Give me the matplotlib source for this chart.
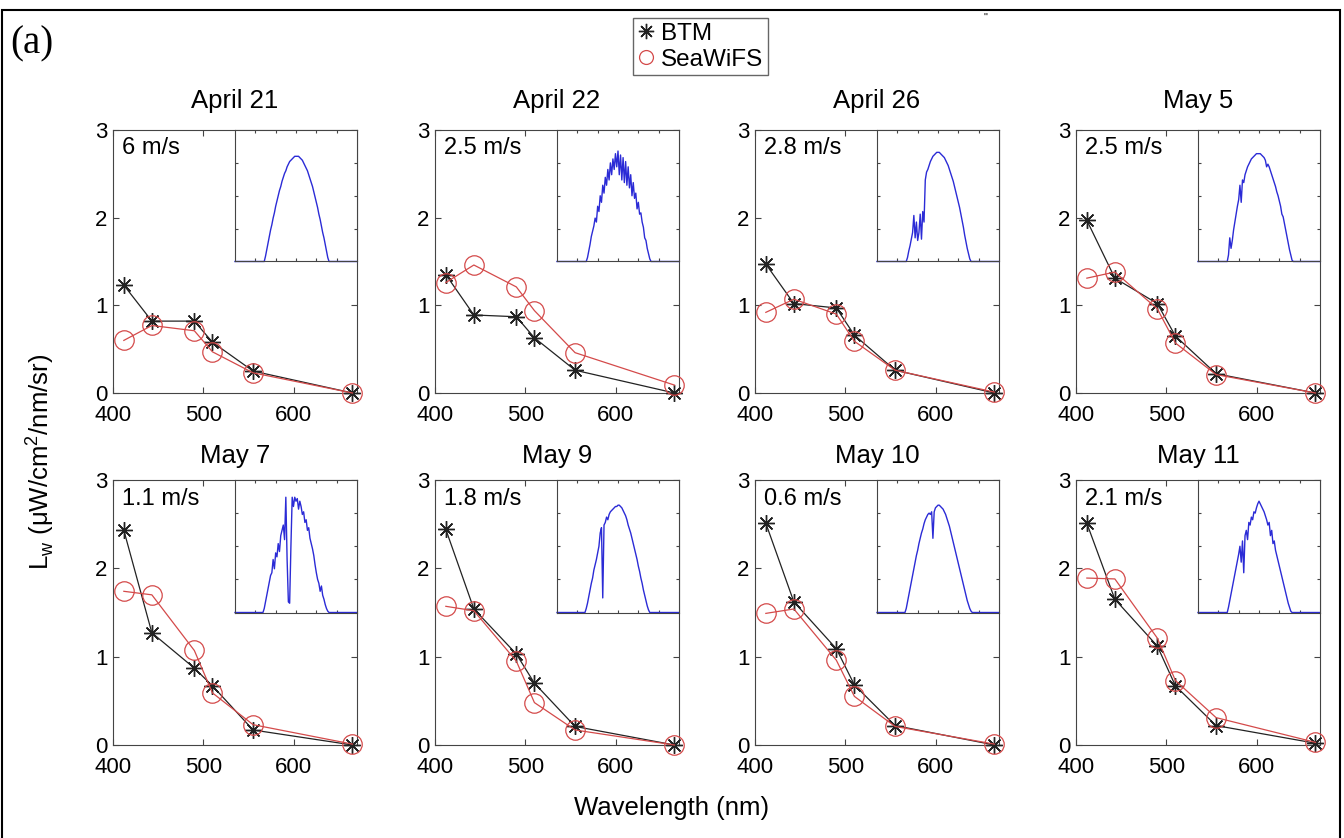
import matplotlib
matplotlib.use("Agg")
import matplotlib.pyplot as plt
from matplotlib.lines import Line2D
from matplotlib.patches import Rectangle

plt.rcParams["font.family"] = ["Liberation Sans", "DejaVu Sans"]

dates = ["April 21", "April 22", "April 26", "May 5", "May 7", "May 9", "May 10", "May 11"]
winds = ["6 m/s", "2.5 m/s", "2.8 m/s", "2.5 m/s", "1.1 m/s", "1.8 m/s", "0.6 m/s", "2.1 m/s"]

# SeaWiFS band centres (nm)
bands = [412, 443, 490, 510, 555, 665]

btm = [
    [1.23, 0.82, 0.82, 0.58, 0.25, 0.00],
    [1.35, 0.89, 0.87, 0.63, 0.26, 0.00],
    [1.47, 1.02, 0.97, 0.66, 0.26, 0.00],
    [1.97, 1.31, 1.02, 0.65, 0.22, 0.00],
    [2.43, 1.27, 0.87, 0.67, 0.17, 0.00],
    [2.44, 1.54, 1.03, 0.70, 0.21, 0.00],
    [2.51, 1.62, 1.09, 0.68, 0.22, 0.00],
    [2.51, 1.65, 1.12, 0.67, 0.22, 0.02],
]

seawifs = [
    [0.60, 0.77, 0.71, 0.47, 0.23, 0.00],
    [1.26, 1.46, 1.21, 0.94, 0.46, 0.09],
    [0.92, 1.07, 0.90, 0.59, 0.26, 0.01],
    [1.31, 1.38, 0.96, 0.57, 0.21, 0.00],
    [1.74, 1.70, 1.07, 0.59, 0.23, 0.01],
    [1.57, 1.52, 0.95, 0.48, 0.17, 0.00],
    [1.49, 1.54, 0.96, 0.55, 0.21, 0.01],
    [1.89, 1.88, 1.21, 0.73, 0.31, 0.03],
]

# inset: daily irradiance record (hour of day, relative units)
hours = [0, 5.5, 5.75, 6.0, 6.25, 6.5, 6.75, 7.0, 7.25, 7.5, 7.75,
         8.0, 8.25, 8.5, 8.75, 9.0, 9.25, 9.5, 9.75, 10.0, 10.25, 10.5, 10.75,
         11.0, 11.25, 11.5, 11.75, 12.0, 12.25, 12.5, 12.75, 13.0, 13.25, 13.5, 13.75,
         14.0, 14.25, 14.5, 14.75, 15.0, 15.25, 15.5, 15.75, 16.0, 16.25, 16.5, 16.75,
         17.0, 17.25, 17.5, 17.75, 18.0, 18.25, 18.5, 18.75, 19.0, 24]

sun = [
    [0, 0, 0, 0.04, 0.09, 0.14, 0.19, 0.24, 0.28, 0.33, 0.37,
     0.42, 0.46, 0.50, 0.54, 0.57, 0.61, 0.64, 0.67, 0.69, 0.72, 0.74, 0.76,
     0.77, 0.78, 0.79, 0.80, 0.80, 0.80, 0.80, 0.79, 0.78, 0.77, 0.75, 0.73,
     0.71, 0.69, 0.66, 0.63, 0.60, 0.57, 0.53, 0.49, 0.45, 0.41, 0.36, 0.32,
     0.27, 0.22, 0.18, 0.13, 0.08, 0.03, 0, 0, 0, 0],
    [0, 0, 0, 0.03, 0.08, 0.13, 0.19, 0.23, 0.27, 0.33, 0.30,
     0.42, 0.38, 0.50, 0.45, 0.58, 0.52, 0.64, 0.58, 0.70, 0.62, 0.75, 0.66,
     0.78, 0.70, 0.82, 0.72, 0.84, 0.66, 0.81, 0.62, 0.79, 0.60, 0.76, 0.58,
     0.72, 0.56, 0.66, 0.50, 0.60, 0.48, 0.52, 0.40, 0.45, 0.36, 0.37, 0.30,
     0.26, 0.18, 0.16, 0.10, 0.06, 0.02, 0, 0, 0, 0],
    [0, 0, 0, 0.03, 0.08, 0.12, 0.17, 0.22, 0.35, 0.18, 0.30,
     0.16, 0.22, 0.36, 0.17, 0.38, 0.30, 0.62, 0.68, 0.70, 0.73, 0.76, 0.78,
     0.80, 0.81, 0.82, 0.83, 0.83, 0.83, 0.82, 0.81, 0.80, 0.79, 0.77, 0.75,
     0.73, 0.70, 0.67, 0.64, 0.61, 0.57, 0.53, 0.49, 0.45, 0.41, 0.36, 0.31,
     0.26, 0.20, 0.15, 0.10, 0.06, 0.02, 0, 0, 0, 0],
    [0, 0, 0, 0.05, 0.18, 0.10, 0.16, 0.24, 0.30, 0.36, 0.42,
     0.47, 0.58, 0.45, 0.62, 0.60, 0.66, 0.69, 0.72, 0.74, 0.76, 0.78, 0.79,
     0.80, 0.81, 0.82, 0.82, 0.82, 0.82, 0.81, 0.80, 0.79, 0.77, 0.72, 0.74,
     0.72, 0.69, 0.66, 0.63, 0.60, 0.57, 0.53, 0.50, 0.46, 0.42, 0.36, 0.34,
     0.29, 0.24, 0.19, 0.14, 0.09, 0.05, 0.01, 0, 0, 0],
    [0, 0, 0.03, 0.08, 0.13, 0.18, 0.23, 0.28, 0.30, 0.40, 0.33,
     0.45, 0.42, 0.52, 0.46, 0.58, 0.62, 0.66, 0.55, 0.87, 0.40, 0.08, 0.07,
     0.50, 0.87, 0.80, 0.87, 0.84, 0.86, 0.78, 0.84, 0.80, 0.74, 0.76, 0.68,
     0.70, 0.62, 0.64, 0.56, 0.52, 0.48, 0.43, 0.36, 0.30, 0.25, 0.22, 0.16,
     0.20, 0.13, 0.10, 0.06, 0.03, 0.01, 0, 0, 0, 0],
    [0, 0, 0.03, 0.07, 0.12, 0.17, 0.22, 0.26, 0.32, 0.36, 0.40,
     0.45, 0.50, 0.60, 0.64, 0.11, 0.66, 0.68, 0.72, 0.70, 0.74, 0.76, 0.77,
     0.78, 0.79, 0.80, 0.80, 0.81, 0.81, 0.80, 0.79, 0.77, 0.75, 0.73, 0.70,
     0.66, 0.63, 0.60, 0.56, 0.52, 0.48, 0.44, 0.40, 0.35, 0.31, 0.26, 0.22,
     0.17, 0.13, 0.09, 0.05, 0.02, 0, 0, 0, 0, 0],
    [0, 0, 0.03, 0.08, 0.13, 0.18, 0.23, 0.28, 0.33, 0.38, 0.43,
     0.47, 0.52, 0.56, 0.60, 0.63, 0.67, 0.70, 0.72, 0.74, 0.75, 0.74, 0.76,
     0.56, 0.76, 0.79, 0.80, 0.81, 0.81, 0.80, 0.79, 0.78, 0.76, 0.74, 0.71,
     0.68, 0.65, 0.61, 0.57, 0.53, 0.49, 0.45, 0.41, 0.37, 0.33, 0.29, 0.25,
     0.21, 0.17, 0.13, 0.09, 0.06, 0.03, 0.01, 0, 0, 0],
    [0, 0, 0, 0.04, 0.09, 0.14, 0.19, 0.24, 0.29, 0.34, 0.39,
     0.44, 0.50, 0.38, 0.54, 0.30, 0.58, 0.62, 0.55, 0.68, 0.66, 0.72, 0.70,
     0.76, 0.75, 0.79, 0.82, 0.84, 0.82, 0.80, 0.78, 0.76, 0.73, 0.70, 0.66,
     0.68, 0.58, 0.62, 0.52, 0.54, 0.47, 0.43, 0.39, 0.35, 0.31, 0.27, 0.23,
     0.19, 0.15, 0.11, 0.07, 0.04, 0.01, 0, 0, 0, 0],
]

W, H = 1344, 838
black = "#222222"
red = "#d44a4a"
blue = "#2b2bd6"
frame = "#444444"
asterisk = (8, 2, 0)

fig = plt.figure(figsize=(W / 100, H / 100), dpi=100)

col_left = [113, 435, 755, 1076]
row_bottom = [393, 745]
row_height = [263, 265]
title_pad = [16, 12.5]

for i in range(8):
    row, col = divmod(i, 4)
    ax = fig.add_axes([col_left[col] / W, 1 - row_bottom[row] / H,
                       244 / W, row_height[row] / H])
    ax.plot(bands, btm[i], color=black, lw=0.9, marker=asterisk, ms=12, mew=1.0,
            clip_on=False, zorder=3)
    ax.plot(bands, seawifs[i], color=red, lw=0.9, marker="o", ms=14,
            mfc="none", mew=0.9, clip_on=False, zorder=3)
    ax.set_xlim(400, 670)
    ax.set_ylim(0, 3)
    ax.set_xticks([400, 500, 600])
    ax.set_yticks([0, 1, 2, 3])
    ax.tick_params(direction="in", top=True, right=True, labelsize=16,
                   length=4, color=frame)
    ax.tick_params(axis="x", pad=8.5)
    ax.tick_params(axis="y", pad=4)
    for s in ax.spines.values():
        s.set_color(frame)
    ax.set_title(dates[i], fontsize=18.5, pad=title_pad[row])
    ax.text(0.035, 0.93, winds[i], transform=ax.transAxes, fontsize=17,
            ha="left", va="center")

    ins = ax.inset_axes([0.5, 0.5, 0.5, 0.5])
    ins.plot(hours, sun[i], color=blue, lw=1.0, clip_on=False)
    ins.set_xlim(0, 24)
    ins.set_ylim(0, 1)
    ins.set_xticks([4, 8, 12, 16, 20])
    ins.set_yticks([0.25, 0.5, 0.75])
    ins.tick_params(direction="in", top=True, right=True, length=2,
                    labelbottom=False, labelleft=False, color=frame)
    for s in ins.spines.values():
        s.set_color(frame)

handles = [
    Line2D([], [], color=black, marker=asterisk, ls="none", ms=11, mew=1.0),
    Line2D([], [], color=red, marker="o", ls="none", ms=10, mfc="none", mew=0.9),
]
fig.legend(handles, ["BTM", "SeaWiFS"], loc="upper left",
           bbox_to_anchor=(633 / W, 1 - 18 / H), fontsize=17.5, frameon=True,
           fancybox=False, edgecolor="#666666", framealpha=1, numpoints=1,
           handlelength=0.7, handletextpad=0.25, borderpad=0.2,
           labelspacing=0.15, borderaxespad=0)

fig.text(40 / W, 1 - 462 / H,
         r"L$_\mathregular{w}$ (μW/cm$^\mathregular{2}$/nm/sr)",
         rotation=90, fontsize=18.5, ha="center", va="center")
fig.text(672 / W, 1 - 808 / H, "Wavelength (nm)", fontsize=18.5,
         ha="center", va="center")
fig.text(10 / W, 1 - 44 / H, "(a)", fontsize=28, family="Liberation Serif",
         ha="left", va="center")
fig.text(985 / W, 1 - 18 / H, '"', fontsize=8, ha="center", va="center")

fig.patches.append(Rectangle((2 / W, -0.01), (1340 - 2) / W, 1 - 10 / H + 0.01,
                             transform=fig.transFigure, fill=False,
                             lw=1.5, edgecolor="black"))

fig.savefig("out.png", dpi=100)
